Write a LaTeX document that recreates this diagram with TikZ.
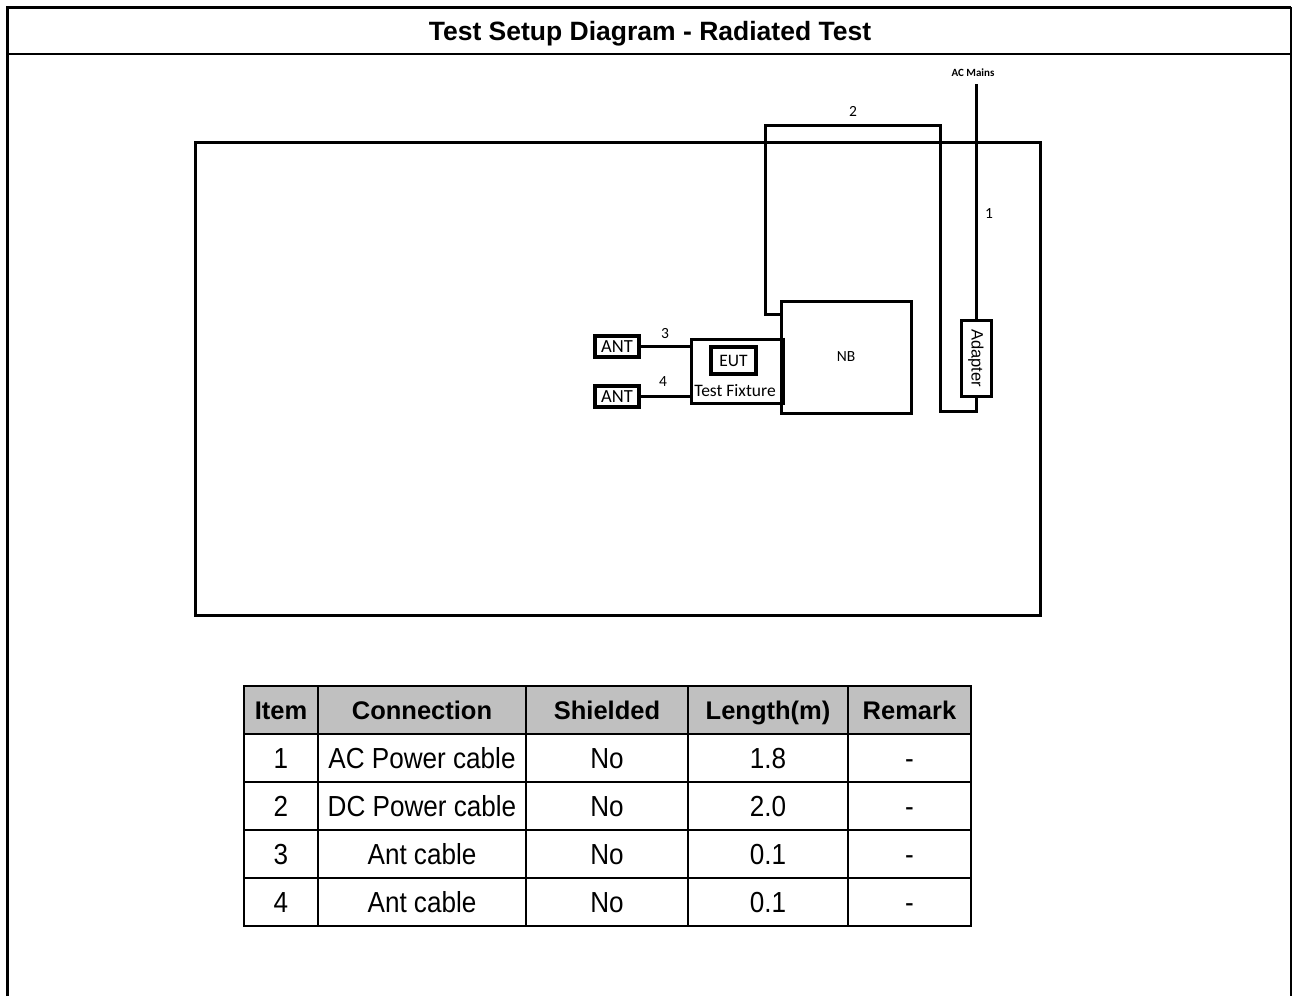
\documentclass[tikz,border=0pt]{standalone}
\usepackage{fontspec}
\setmainfont{Liberation Sans}
\newfontfamily\carfont{Carlito}
\newfontfamily\cellfont[FakeStretch=0.9]{Liberation Sans}
\usetikzlibrary{positioning,calc}
\definecolor{hdgray}{HTML}{C0C0C0}

\begin{document}
\begin{tikzpicture}[
  x=1pt, y=-1pt,
  unitbox/.style={draw, line width=3, inner sep=0pt, font=\carfont\fontsize{17.5}{19}\selectfont},
  antbox/.style={draw, line width=4, inner sep=0pt, minimum width=44, minimum height=21, text height=11.5, text depth=0, font=\carfont\fontsize{18.5}{20}\selectfont},
  cable/.style={line width=3},
  cablelabel/.style={font=\carfont\fontsize{15.5}{17}\selectfont, inner sep=0pt},
  hdcell/.style={draw, line width=2.5, fill=hdgray, minimum height=48, inner sep=0pt, text height=18.3, text depth=0, font=\bfseries\fontsize{25.5}{28}\selectfont},
  cell/.style={draw, line width=2.5, minimum height=48, inner sep=0pt, text height=21, text depth=0, font=\cellfont\fontsize{29}{32}\selectfont}
]
\useasboundingbox (0,0) rectangle (1293,996);

% frame and title
\coordinate (ftl) at (7,7);
\coordinate (ftr) at (1291,7);
\coordinate (fbl) at (7,996);
\coordinate (fbr) at (1291,996);
\draw[line width=3] (fbl) -- (ftl) -- (ftr);
\draw[line width=1.5] (ftr) -- (fbr);
\draw[line width=2.5] (7,54) -- (1291,54);
\node[font=\bfseries\fontsize{26.5}{30}\selectfont, text height=19, text depth=0, inner sep=0pt] (title) at (650,31) {Test Setup Diagram - Radiated Test};

% test table
\node[draw, line width=3, minimum width=845, minimum height=473] (room) at (617.5,378.5) {};

% units
\node[unitbox, minimum width=130, minimum height=112, font=\carfont\fontsize{15.5}{17}\selectfont] (nb) at (846,357) {NB};
\node[unitbox, minimum width=90, minimum height=64] (fix) at (736,371) {};
\draw[line width=4] (fix.north east) -- (fix.south east);
\node[unitbox, line width=3.5, minimum width=45, minimum height=27, text height=11, text depth=0] (eut) at (733.5,360.5) {EUT};
\node[font=\carfont\fontsize{17.5}{19}\selectfont, inner sep=0pt] (fixlabel) at (735,391) {Test Fixture};
\node[antbox] (ant1) at (617,346.5) {ANT};
\node[antbox] (ant2) at (617,396.5) {ANT};
\node[unitbox, minimum width=30, minimum height=76] (adp) at (976,358) {};
\node[rotate=-90, font=\fontsize{16.5}{18}\selectfont, inner sep=0pt] (adplabel) at (adp.center) {Adapter};

% cables
\draw[cable] (ant1.east) -- (ant1.east -| fix.west);
\draw[cable] (ant2.east) -- (ant2.east -| fix.west);
\node[cablelabel] (l3) at (665,334) {3};
\node[cablelabel] (l4) at (663,382) {4};

\coordinate (mains) at (976,84);
\node[font=\carfont\bfseries\fontsize{11}{13}\selectfont, inner sep=0pt] (mainslabel) at (973,73) {AC Mains};
\draw[cable] (mains) -- (adp.north);
\node[cablelabel] (l1) at (989,214) {1};

\draw[cable] ([yshift=-15]nb.north west) -| (765,125) -| (940,411) -| (adp.south);
\node[cablelabel] (l2) at (853,111) {2};

% cable list
\foreach \cx/\w/\txt [count=\c] in {281/74/Item, 422/208/Connection, 607/162/Shielded, 768/160/Length(m), 909.5/123/Remark}
  \node[hdcell, minimum width=\w] (h\c) at (\cx,710) {\txt};

\foreach \item/\conn/\len [count=\k] in {1/AC Power cable/1.8, 2/DC Power cable/2.0, 3/Ant cable/0.1, 4/Ant cable/0.1} {
  \node[cell, minimum width=74] (r\k-1) at (281,{710+48*\k}) {\item};
  \node[cell, minimum width=208] (r\k-2) at (422,{710+48*\k}) {\conn};
  \node[cell, minimum width=162] (r\k-3) at (607,{710+48*\k}) {No};
  \node[cell, minimum width=160] (r\k-4) at (768,{710+48*\k}) {\len};
  \node[cell, minimum width=123] (r\k-5) at (909.5,{710+48*\k}) {-};
}

\end{tikzpicture}
\end{document}
